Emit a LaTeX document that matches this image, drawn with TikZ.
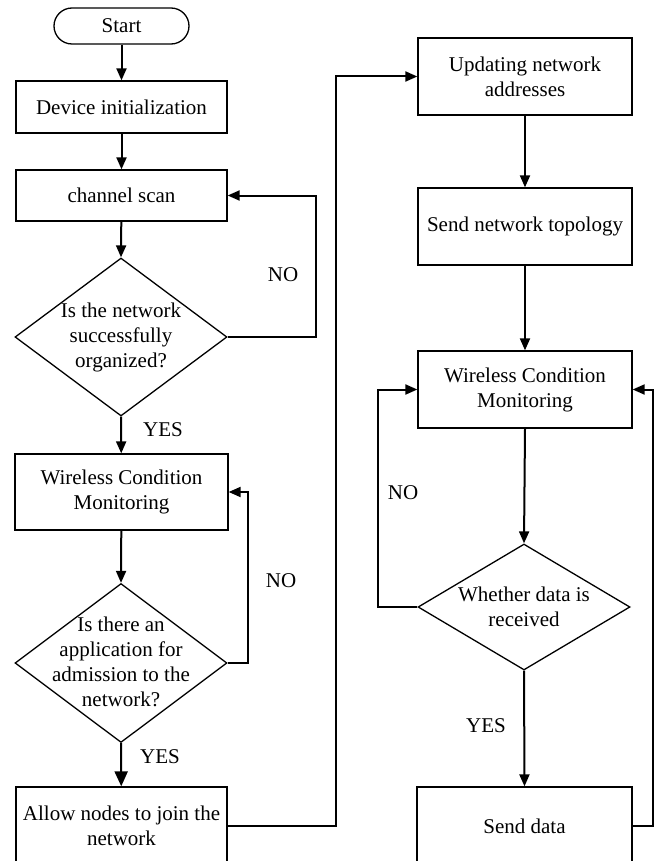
\documentclass[tikz,border=0pt]{standalone}
\usepackage{fontspec}
\setmainfont{Liberation Serif}
\usetikzlibrary{arrows.meta,shapes.geometric}
\begin{document}
\begin{tikzpicture}[x=1pt,y=-1pt,
  txt/.style={font=\fontsize{21}{25}\selectfont,align=center,inner sep=0pt},
  procbox/.style={draw,line width=1.3pt,rectangle,inner sep=0pt,font=\fontsize{21}{25}\selectfont,align=center},
  termbox/.style={draw,line width=1.3pt,rectangle,rounded corners=18pt,inner sep=0pt,minimum width=135pt,minimum height=36pt,font=\fontsize{21}{25}\selectfont},
  decbox/.style={draw,line width=1.3pt,diamond,inner sep=0pt,aspect=1},
  flow/.style={line width=2pt,-{Triangle[length=12pt,width=10pt]}},
  bigflow/.style={line width=2pt,-{Triangle[length=15pt,width=13pt]}},
  lbl/.style={font=\fontsize{21}{25}\selectfont,inner sep=0pt}]
\useasboundingbox (0,0) rectangle (661,861);
\clip (0,0) rectangle (661,861);

% left column
\node[termbox] (start) at (121.5,26) {Start};
\node[procbox,minimum width=211pt,minimum height=52pt] (init) at (121.5,107) {Device initialization};
\node[procbox,minimum width=211pt,minimum height=51pt] (scan) at (121.5,195.5) {channel scan};
\node[decbox,minimum width=212pt,minimum height=158pt] (d1) at (121,337) {};
\node[txt] at (d1.center) {Is the network\\successfully\\organized?};
\node[procbox,minimum width=213pt,minimum height=76pt] (wcm1) at (121.5,492) {Wireless Condition\\Monitoring};
\node[decbox,minimum width=212pt,minimum height=159pt] (d2) at (121,663) {};
\node[txt] at ([yshift=1pt]d2.center) {Is there an\\application for\\admission to the\\network?};
\node[procbox,minimum width=211pt,minimum height=78pt] (allow) at (121.5,826) {Allow nodes to join the\\network};

% right column
\node[procbox,minimum width=214pt,minimum height=77pt] (upd) at (525,76.5) {Updating network\\addresses};
\node[procbox,minimum width=214pt,minimum height=77pt] (topo) at (525,226.5) {Send network topology};
\node[procbox,minimum width=214pt,minimum height=77pt] (wcm2) at (525,389.5) {Wireless Condition\\Monitoring};
\node[decbox,minimum width=212pt,minimum height=126pt] (d3) at (524,607) {};
\node[txt] at (d3.center) {Whether data is\\received};
\node[procbox,minimum width=215pt,minimum height=78pt] (send) at (524.5,826) {Send data};

% loop-back rails
\coordinate (r1) at (316,0);
\coordinate (l1) at (248,0);
\coordinate (bus) at (336,0);
\coordinate (l2) at (378,0);
\coordinate (r2) at (653,0);

% main flow
\draw[flow] (start) -- (init);
\draw[flow] (init) -- (scan);
\draw[flow] (scan) -- (d1.north);
\draw[flow] (d1.south) -- (wcm1);
\draw[flow] (wcm1) -- (d2.north);
\draw[bigflow] (d2.south) -- (allow);
\draw[flow] (allow.east) -- (allow.east -| bus) -- (upd.west -| bus) -- (upd.west);
\draw[flow] (upd) -- (topo);
\draw[flow] (topo) -- (wcm2);
\draw[flow] (wcm2.south) -- (d3.north);
\draw[flow] (d3.south) -- (send.north);

% feedback loops
\draw[flow] (d1.east) -- (d1.east -| r1) -- (scan.east -| r1) -- (scan.east);
\draw[flow] (d2.east) -- (d2.east -| l1) -- (wcm1.east -| l1) -- (wcm1.east);
\draw[flow] (d3.west) -- (d3.west -| l2) -- (wcm2.west -| l2) -- (wcm2.west);
\draw[flow] (send.east) -- (send.east -| r2) -- (wcm2.east -| r2) -- (wcm2.east);

% branch labels
\node[lbl] at (283,275) {NO};
\node[lbl] at (163,430) {YES};
\node[lbl] at (281,581) {NO};
\node[lbl] at (160,757) {YES};
\node[lbl] at (403,493) {NO};
\node[lbl] at (486,726) {YES};
\end{tikzpicture}
\end{document}
